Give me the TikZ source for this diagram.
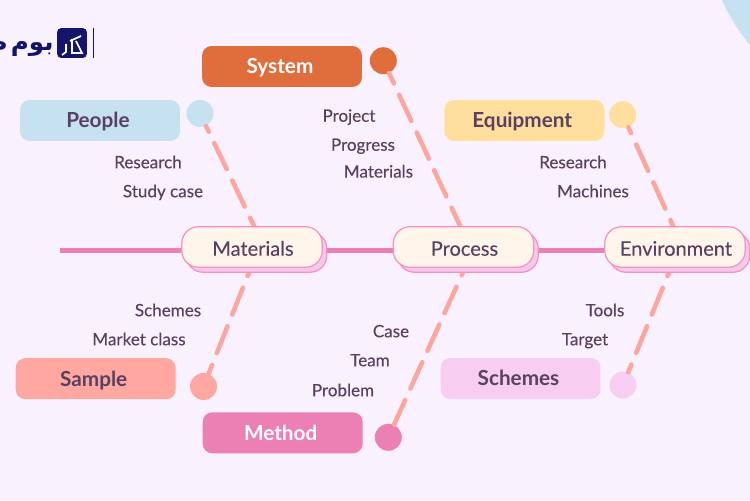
\documentclass[tikz,border=0pt]{standalone}
\usepackage{fontspec}
\setmainfont{Lato}
\newfontfamily\medfont[FakeBold=0.25]{Lato}
\newfontfamily\arabicfont[Script=Arabic]{DejaVu Sans}
\TeXXeTstate=1
\usetikzlibrary{calc}

\definecolor{pagebg}{HTML}{F9F1FE}
\definecolor{inktext}{HTML}{5A4162}
\definecolor{spine}{HTML}{EC7FB3}
\definecolor{bone}{HTML}{FFA5A0}
\definecolor{headfill}{HTML}{FFF5EA}
\definecolor{headedge}{HTML}{F391BF}
\definecolor{headback}{HTML}{F6C8EE}
\definecolor{navy}{HTML}{14146B}
\definecolor{sysorange}{HTML}{DF6E3C}
\definecolor{peopleblue}{HTML}{C6E1F0}
\definecolor{equipyellow}{HTML}{FFDF9E}
\definecolor{samplered}{HTML}{FFA7A1}
\definecolor{methodpink}{HTML}{EC7FB3}
\definecolor{schemeslilac}{HTML}{F7CDF1}

\tikzset{
  tag/.style={rounded corners=5.5pt, text=inktext, minimum width=3.2cm, minimum height=0.82cm,
    font=\fontsize{11.8}{12}\selectfont\bfseries, inner sep=0pt, text height=8.4pt, text depth=0pt,
    execute at end node=\hspace{2.3pt}},
  dot/.style={circle, minimum size=0.54cm, inner sep=0pt},
  head/.style={draw=headedge, line width=0.7pt, fill=headfill, rounded corners=9.5pt, text=inktext,
    minimum width=2.81cm, minimum height=0.81cm, font=\medfont\fontsize{11.4}{12}\selectfont,
    inner sep=0pt, text height=9.9pt, text depth=0pt, execute at begin node=\hspace{1.1pt}},
  headshadow/.style={draw=headedge, line width=0.7pt, fill=headback, rounded corners=9.5pt,
    minimum width=2.81cm, minimum height=0.81cm, inner sep=0pt},
  cause/.style={text=inktext, font=\medfont\fontsize{9.7}{10}\selectfont, inner sep=0pt,
    text height=7.1pt, text depth=0pt},
  bone line/.style={draw=bone, line width=2.6pt, line cap=round, dash pattern=on 16.4pt off 7.2pt},
  spine line/.style={draw=spine, line width=2.3pt}
}

\begin{document}
\begin{tikzpicture}[x=0.02cm, y=-0.02cm]

% Page and corner blob
\fill[pagebg] (0,0) rectangle (750,500);
\useasboundingbox (0,0) rectangle (750,500);
\fill[peopleblue] (722,0) .. controls (730,18) and (740,33) .. (750,45) -- (750,0) -- cycle;

% Logo
\node (logobox) at (72,43) [fill=navy, rounded corners=2.5pt, minimum size=0.6cm, inner sep=0pt] {};
\draw[white, line width=1pt] (66,44) -- (66,52) -- (62,55) (70,41) -- (81,36) (72,39) -- (72,53) -- (82,53) -- (76,41);
\begin{scope}
\clip (0,0) rectangle (750,500);
\node (logotext) at (54,44) [anchor=east, text=navy, inner sep=0pt, font=\arabicfont\bfseries\fontsize{14}{14}\selectfont] {\beginR بوم\hspace{-3pt} ط\endR};
\end{scope}
\coordinate (logorulea) at (93,28);
\coordinate (logoruleb) at (93,58);
\draw[navy, line width=0.4pt] (logorulea) -- (logoruleb);

% Heads of the bones
\coordinate (materialstop) at (255,228);
\coordinate (materialsbot) at (250,270);
\coordinate (processtop) at (461,228);
\coordinate (processbot) at (464,270);
\coordinate (environmenttop) at (674,228);
\coordinate (environmentbot) at (670,270);
\coordinate (spinestart) at (60,250.5);

% Dots
\node (systemdot) at (383.3,60.7) [dot, fill=sysorange] {};
\node (peopledot) at (200,113.5) [dot, fill=peopleblue] {};
\node (equipmentdot) at (622.7,114.7) [dot, fill=equipyellow] {};
\node (sampledot) at (203.5,386.5) [dot, fill=samplered] {};
\node (methoddot) at (388.3,437.3) [dot, fill=methodpink] {};
\node (schemesdot) at (623,385) [dot, fill=schemeslilac] {};

% Bones
\draw[bone line, dash phase=10pt] (systemdot) -- (processtop);
\draw[bone line, dash phase=12.8pt] (peopledot) -- (materialstop);
\draw[bone line, dash phase=12.8pt] (equipmentdot) -- (environmenttop);
\draw[bone line, dash phase=11pt] (sampledot) -- (materialsbot);
\draw[bone line, dash phase=1pt] (methoddot) -- (processbot);
\draw[bone line, dash phase=11.7pt] (schemesdot) -- (environmentbot);

% Heads and spine
\node (materialsback) at (256.5,252) [headshadow] {};
\node (processback) at (468,252) [headshadow] {};
\node (environmentback) at (679.5,252) [headshadow] {};
\node (materials) at (252,247) [head] {Materials};
\node (process) at (463.5,247) [head] {Process};
\node (environment) at (675,247) [head] {Environment};
\draw[spine line] (spinestart) -- (spinestart -| materials.west);
\draw[spine line] (spinestart -| materialsback.east) -- (spinestart -| process.west);
\draw[spine line] (spinestart -| processback.east) -- (spinestart -| environment.west);

% Tags
\node (system) at (282,66.5) [tag, fill=sysorange, text=white] {System};
\node (people) at (100,120.5) [tag, fill=peopleblue] {People};
\node (equipment) at (524.3,120.5) [tag, fill=equipyellow] {Equipment};
\node (sample) at (95.7,378.7) [tag, fill=samplered] {Sample};
\node (method) at (282.7,432.8) [tag, fill=methodpink, text=white] {Method};
\node (schemes) at (520.5,378.5) [tag, fill=schemeslilac] {Schemes};

% Causes
\node (project) at (349,115.5) [cause] {Project};
\node (progress) at (363,144.5) [cause] {Progress};
\node (materialsa) at (378.5,171.3) [cause] {Materials};
\node (researcha) at (148,162) [cause] {Research};
\node (studycase) at (163,191) [cause] {Study case};
\node (researchb) at (573,162) [cause] {Research};
\node (machines) at (593,191) [cause] {Machines};
\node (schemesa) at (168,310) [cause] {Schemes};
\node (marketclass) at (139,339) [cause] {Market class};
\node (casea) at (391,331) [cause] {Case};
\node (team) at (370,360) [cause] {Team};
\node (problem) at (343,390) [cause] {Problem};
\node (tools) at (605,310) [cause] {Tools};
\node (target) at (585,339) [cause] {Target};

\end{tikzpicture}
\end{document}
